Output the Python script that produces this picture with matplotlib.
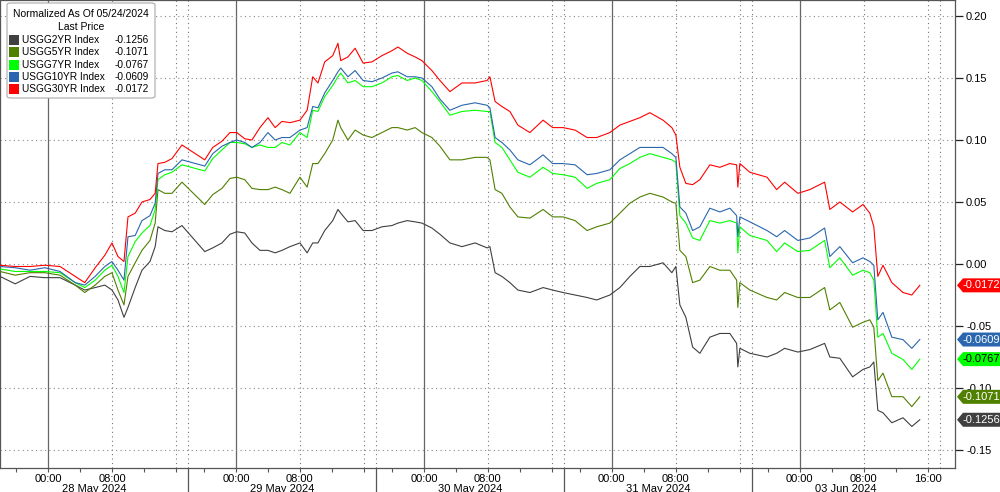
import numpy as np
import matplotlib
matplotlib.use("Agg")
import matplotlib.pyplot as plt
from matplotlib.patches import FancyBboxPatch, Rectangle, Polygon
from matplotlib.transforms import blended_transform_factory

plt.rcParams['axes.unicode_minus'] = False
plt.rcParams['font.family'] = ['Liberation Sans', 'DejaVu Sans']

# time on the trading-session axis, hours since the first session opened (18:00, 27 May)
t = np.array([0, 1.9, 3.75, 5.6, 7.5, 9.4, 10.6, 11.9, 13.1, 14, 14.75, 15.5, 16, 16.9, 17.75,
              18.75, 19.4, 19.75, 20.6, 21.5, 22.75, 25.6, 26.6, 27.75, 28.75, 29.6, 30.6,
              31.5, 32.5, 33.5, 34.4, 35.25, 36.25, 37.5, 38.4, 39.1, 39.75, 40.6, 41.6,
              42.25, 42.6, 43.5, 44.4, 45.4, 46.5, 47.75, 49, 49.75, 50.9, 51.9, 52.75, 54,
              55, 56.25, 57.75, 59.4, 60.9, 61.25, 61.9, 62.75, 63.75, 64.75, 66.25, 67.9,
              69.1, 70.4, 71.9, 73.4, 74.6, 76.25, 77.5, 78.75, 80, 81.25, 82.9, 84, 84.5,
              85, 85.75, 86.6, 87.5, 88.75, 90, 91.25, 92.1, 92.25, 92.5, 93.75, 95.9, 97.1,
              98.1, 99.75, 101.25, 103.1, 103.75, 105, 106.6, 107.9, 108.75, 109.25, 109.75,
              110.4, 111.5, 112.9, 114, 115])

usgg30 = np.array([-0.001, -0.002, -0.002, -0.001, -0.002, -0.010, -0.015, -0.003, 0.007, 0.017,
                   0.006, 0.002, 0.038, 0.041, 0.050, 0.052, 0.057, 0.081, 0.082, 0.085, 0.096,
                   0.084, 0.094, 0.099, 0.106, 0.106, 0.101, 0.100, 0.110, 0.118, 0.110, 0.115,
                   0.114, 0.116, 0.124, 0.151, 0.146, 0.163, 0.168, 0.178, 0.164, 0.167, 0.174,
                   0.162, 0.163, 0.168, 0.172, 0.175, 0.170, 0.167, 0.164, 0.156, 0.148, 0.139,
                   0.146, 0.146, 0.148, 0.151, 0.131, 0.127, 0.123, 0.112, 0.106, 0.116, 0.110,
                   0.110, 0.108, 0.102, 0.102, 0.106, 0.112, 0.115, 0.118, 0.122, 0.116, 0.110,
                   0.104, 0.078, 0.065, 0.064, 0.068, 0.080, 0.078, 0.081, 0.080, 0.062, 0.081,
                   0.074, 0.070, 0.060, 0.066, 0.057, 0.060, 0.066, 0.044, 0.050, 0.042, 0.048,
                   0.041, 0.030, -0.010, -0.001, -0.015, -0.023, -0.025, -0.0172])

usgg10 = np.array([-0.002, -0.003, -0.005, -0.003, -0.006, -0.015, -0.017, -0.010, -0.002, 0.002,
                   -0.005, -0.013, 0.022, 0.023, 0.035, 0.039, 0.049, 0.073, 0.076, 0.076, 0.084,
                   0.079, 0.089, 0.095, 0.098, 0.100, 0.098, 0.094, 0.098, 0.106, 0.100, 0.102,
                   0.102, 0.108, 0.110, 0.127, 0.126, 0.138, 0.148, 0.155, 0.158, 0.151, 0.156,
                   0.148, 0.147, 0.150, 0.154, 0.155, 0.151, 0.151, 0.150, 0.143, 0.133, 0.124,
                   0.128, 0.130, 0.128, 0.126, 0.102, 0.098, 0.092, 0.084, 0.080, 0.088, 0.081,
                   0.081, 0.080, 0.072, 0.073, 0.076, 0.084, 0.089, 0.094, 0.094, 0.094, 0.089,
                   0.086, 0.046, 0.041, 0.027, 0.030, 0.045, 0.042, 0.045, 0.039, 0.022, 0.038,
                   0.034, 0.027, 0.022, 0.027, 0.019, 0.021, 0.029, 0.006, 0.014, 0.001, 0.005,
                   0.002, -0.001, -0.045, -0.039, -0.059, -0.061, -0.068, -0.0609])

usgg7 = np.array([-0.004, -0.006, -0.006, -0.006, -0.007, -0.015, -0.019, -0.013, -0.005, -0.001,
                  -0.010, -0.023, 0.006, 0.018, 0.025, 0.031, 0.044, 0.068, 0.072, 0.074, 0.080,
                  0.075, 0.085, 0.092, 0.098, 0.098, 0.097, 0.094, 0.096, 0.094, 0.094, 0.098,
                  0.096, 0.106, 0.102, 0.124, 0.123, 0.135, 0.144, 0.151, 0.154, 0.146, 0.148,
                  0.143, 0.143, 0.146, 0.151, 0.152, 0.148, 0.150, 0.148, 0.139, 0.131, 0.120,
                  0.123, 0.124, 0.123, 0.123, 0.098, 0.094, 0.084, 0.074, 0.070, 0.078, 0.073,
                  0.072, 0.070, 0.061, 0.065, 0.068, 0.077, 0.081, 0.086, 0.089, 0.086, 0.084,
                  0.082, 0.039, 0.033, 0.021, 0.019, 0.035, 0.033, 0.035, 0.033, 0.009, 0.030,
                  0.023, 0.019, 0.010, 0.017, 0.010, 0.011, 0.019, -0.003, 0.005, -0.009, -0.005,
                  -0.007, -0.013, -0.059, -0.056, -0.072, -0.077, -0.085, -0.0767])

usgg5 = np.array([-0.006, -0.009, -0.007, -0.007, -0.009, -0.017, -0.023, -0.017, -0.010, -0.007,
                  -0.021, -0.033, -0.010, 0.001, 0.011, 0.019, 0.033, 0.060, 0.057, 0.057, 0.066,
                  0.048, 0.056, 0.061, 0.069, 0.070, 0.068, 0.061, 0.060, 0.060, 0.062, 0.060,
                  0.057, 0.070, 0.062, 0.081, 0.081, 0.089, 0.100, 0.116, 0.110, 0.100, 0.108,
                  0.104, 0.102, 0.106, 0.110, 0.110, 0.108, 0.110, 0.106, 0.102, 0.095, 0.084,
                  0.084, 0.086, 0.086, 0.084, 0.060, 0.057, 0.046, 0.038, 0.037, 0.044, 0.038,
                  0.038, 0.035, 0.027, 0.030, 0.033, 0.041, 0.049, 0.054, 0.057, 0.054, 0.050,
                  0.049, 0.011, 0.006, -0.015, -0.013, -0.002, -0.005, -0.005, -0.013, -0.035,
                  -0.015, -0.021, -0.027, -0.029, -0.023, -0.027, -0.027, -0.019, -0.037, -0.031,
                  -0.051, -0.047, -0.045, -0.051, -0.094, -0.088, -0.107, -0.107, -0.115, -0.1071])

usgg2 = np.array([-0.010, -0.016, -0.010, -0.011, -0.011, -0.017, -0.021, -0.019, -0.017, -0.021,
                  -0.029, -0.043, -0.035, -0.019, -0.005, 0.002, 0.014, 0.030, 0.027, 0.026, 0.031,
                  0.010, 0.013, 0.017, 0.024, 0.026, 0.025, 0.017, 0.011, 0.011, 0.009, 0.011,
                  0.014, 0.017, 0.009, 0.017, 0.017, 0.027, 0.035, 0.044, 0.041, 0.034, 0.035,
                  0.027, 0.027, 0.030, 0.031, 0.033, 0.035, 0.034, 0.033, 0.029, 0.024, 0.017,
                  0.014, 0.017, 0.013, 0.014, -0.007, -0.010, -0.015, -0.021, -0.023, -0.019,
                  -0.021, -0.023, -0.025, -0.027, -0.029, -0.025, -0.019, -0.010, -0.002, -0.002,
                  0.001, -0.007, -0.002, -0.033, -0.043, -0.067, -0.072, -0.059, -0.056, -0.056,
                  -0.064, -0.083, -0.068, -0.072, -0.075, -0.072, -0.068, -0.071, -0.069, -0.064,
                  -0.075, -0.076, -0.091, -0.085, -0.083, -0.079, -0.118, -0.120, -0.128, -0.124,
                  -0.131, -0.1256])

names = ["USGG2YR Index", "USGG5YR Index", "USGG7YR Index", "USGG10YR Index", "USGG30YR Index"]
series = [usgg2, usgg5, usgg7, usgg10, usgg30]
colors = ["#404040", "#4f8000", "#00ff00", "#2a66ad", "#ff0000"]
tag_text = ["white", "white", "black", "white", "white"]

days = ["28 May 2024", "29 May 2024", "30 May 2024", "31 May 2024", "03 Jun 2024"]
session_len = 23.5  # 18:00 -> 17:30
yticks = [0.20, 0.15, 0.10, 0.05, 0.00, -0.05, -0.10, -0.15]

FW, FH = 1000, 492
fig = plt.figure(figsize=(FW / 100, FH / 100), dpi=100)
ax = fig.add_axes([0.0, 24 / FH, 0.955, 1 - 24 / FH])

y0, y1 = -0.1645, 0.2129
ax.set_xlim(0, 119.4)
ax.set_ylim(y0, y1)
per_px = (y1 - y0) / (FH - 24)

# grid: solid at midnight, dotted at 08:00, 16:00 and session ends
for d in range(len(days)):
    s = d * session_len
    ax.axvline(s + 6, color="#666666", lw=0.9, zorder=1)
    for h in (14, 22, session_len):
        ax.axvline(s + h, color="#777777", lw=0.8, ls=(0, (1, 3)), zorder=1)
for yv in yticks:
    ax.axhline(yv, color="#888888", lw=0.8, ls=(0, (1, 3)), zorder=1)

for ys, c in zip(series, colors):
    ax.plot(t, ys, color=c, lw=0.8, zorder=3)

# axes styling
for sp in ax.spines.values():
    sp.set_color("#555555")
    sp.set_linewidth(0.9)
ax.yaxis.tick_right()
ax.set_yticks(yticks)
ax.set_yticklabels([f"{v:.2f}" for v in yticks])
ax.tick_params(axis="y", direction="out", length=6, width=0.9, color="#222222",
               labelsize=8, pad=2)

major = []
labels = []
for d in range(len(days)):
    s = d * session_len
    major += [s + 6, s + 14]
    labels += ["00:00", "08:00"]
major.append((len(days) - 1) * session_len + 22)
labels.append("16:00")
ax.set_xticks(major)
ax.set_xticklabels(labels)
minor = []
for d in range(len(days)):
    s = d * session_len
    minor += [s + 2, s + 10, s + 18, s + 22]
ax.set_xticks(minor, minor=True)
ax.tick_params(axis="x", which="major", length=3, width=0.8, color="#555555",
               labelsize=8, pad=1.5)
ax.tick_params(axis="x", which="minor", length=3, width=0.8, color="#555555")

# day labels and separators below the axis
xtr = blended_transform_factory(ax.transData, fig.transFigure)
for d, lab in enumerate(days):
    ax.text((d + 0.5) * session_len, 3 / FH, lab, transform=xtr, ha="center",
            va="center", fontsize=8, clip_on=False)
    if d > 0:
        ax.plot([d * session_len] * 2, [0, 24 / FH], transform=xtr, color="#555555",
                lw=0.9, clip_on=False)

# last-value tags on the right (arrow-shaped boxes)
ftr = blended_transform_factory(fig.transFigure, ax.transData)
hh = 7 * per_px
for ys, c, tc in zip(series, colors, tag_text):
    v = ys[-1]
    pts = [(957 / FW, v), (963 / FW, v + hh), (1.0, v + hh), (1.0, v - hh), (963 / FW, v - hh)]
    fig.patches.append(Polygon(pts, closed=True, transform=ftr, fc=c, ec="none", zorder=5))
    fig.text(981 / FW, v, f"{v:.4f}", transform=ftr, ha="center", va="center",
             fontsize=8, color=tc, zorder=6)

# legend box
atr = ax.transAxes
W, H = 955, 468
box = FancyBboxPatch((7 / W, 1 - 98 / H), 148 / W, 95 / H, transform=atr,
                     boxstyle="round,pad=0,rounding_size=0.004", fc="white",
                     ec="#aaaaaa", lw=0.8, zorder=6)
ax.add_patch(box)
ax.text(81 / W, 1 - 14 / H, "Normalized As Of 05/24/2024", transform=atr, ha="center",
        va="center", fontsize=7.5, zorder=7)
ax.text(81 / W, 1 - 26.5 / H, "Last Price", transform=atr, ha="center", va="center",
        fontsize=7.5, zorder=7)
for i, (nm, ys, c) in enumerate(zip(names, series, colors)):
    yy = 1 - (40 + i * 12.3) / H
    ax.add_patch(Rectangle((9 / W, yy - 5 / H), 10 / W, 10 / H, transform=atr,
                           fc=c, ec="none", zorder=7))
    ax.text(22 / W, yy, nm, transform=atr, ha="left", va="center", fontsize=7.3, zorder=7)
    ax.text(149 / W, yy, f"{ys[-1]:.4f}", transform=atr, ha="right", va="center",
            fontsize=7.3, zorder=7)

fig.savefig("out.png", dpi=100)
